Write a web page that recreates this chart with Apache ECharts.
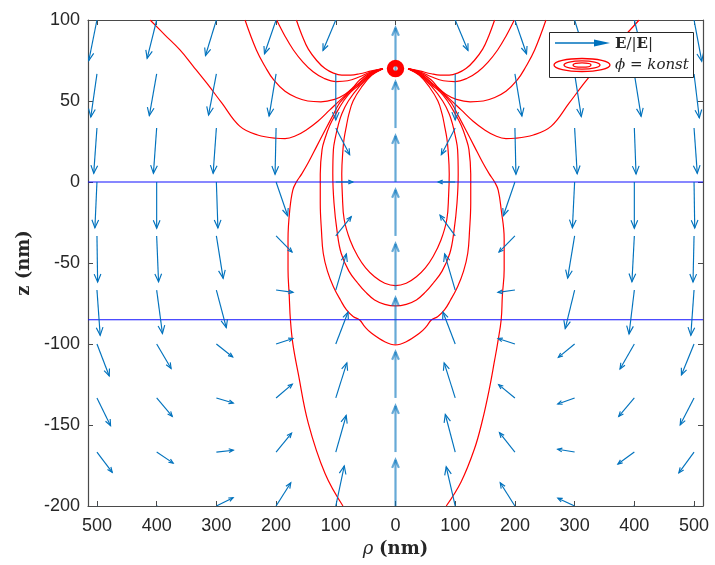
<!DOCTYPE html>
<html><head><meta charset="utf-8">
<script src="https://cdn.jsdelivr.net/npm/echarts@6/dist/echarts.min.js"></script>
<style>html,body{margin:0;padding:0;background:#fff}#c{width:715px;height:565px}</style>
</head><body><div id="c"></div>
<script>
// ---- data ----
const rhoGrid = [-500,-400,-300,-200,-100,0,100,200,300,400,500];
const zGrid = [100,66.7,33.3,0,-33.3,-66.7,-100,-133.3,-166.7,-200];
// unit field components E_rho/|E| (rows follow zGrid, columns follow rhoGrid)
const fieldR = [
  [-0.48,-0.56,-0.64,-0.68,-0.75,0,0.75,0.68,0.64,0.56,0.45],
  [-0.36,-0.43,-0.46,-0.41,0,0,0,0.41,0.39,0.40,0.31],
  [-0.19,-0.19,-0.19,-0.06,0.82,0,-0.82,0.06,0.15,0.10,0.19],
  [-0.12,0,0.09,0.68,1,0,-1,-0.68,-0.13,0,0.04],
  [0.04,0.11,0.40,0.94,0.91,0,-0.89,-0.94,-0.41,-0.14,-0.06],
  [0.19,0.34,0.58,1,0.62,0,-0.62,-1,-0.55,-0.31,-0.19],
  [0.72,0.85,0.96,0.99,0.72,0,-0.72,-0.99,-0.96,-0.84,-0.74],
  [0.80,0.92,0.99,0.96,0.65,0,-0.65,-0.96,-0.99,-0.92,-0.81],
  [0.90,0.97,1,0.91,0.61,0,-0.58,-0.91,-1,-0.97,-0.89],
  [0.95,0.99,0.98,0.86,0.50,0,-0.53,-0.86,-0.99,-0.99,-0.95]
];
// unit field components E_z/|E|
const fieldZ = [
  [-0.88,-0.83,-0.77,-0.73,-0.66,1,-0.66,-0.73,-0.77,-0.83,-0.89],
  [-0.93,-0.90,-0.89,-0.91,-1,1,-1,-0.91,-0.92,-0.92,-0.95],
  [-0.98,-0.98,-0.98,-1,-0.58,1,-0.58,-1,-0.99,-0.99,-0.98],
  [-0.99,-1,-1,-0.73,0,1,0,-0.73,-0.99,-1,-1],
  [-1,-0.99,-0.92,-0.35,0.42,1,0.45,-0.35,-0.91,-0.99,-1],
  [-0.98,-0.94,-0.81,-0.05,0.78,1,0.78,-0.05,-0.83,-0.95,-0.98],
  [-0.69,-0.53,-0.28,0.12,0.69,1,0.69,0.12,-0.29,-0.54,-0.67],
  [-0.60,-0.40,-0.11,0.30,0.76,1,0.76,0.29,-0.13,-0.40,-0.58],
  [-0.44,-0.24,0.04,0.41,0.79,1,0.81,0.42,0.06,-0.26,-0.45],
  [-0.30,-0.12,0.18,0.50,0.87,1,0.85,0.50,0.17,-0.12,-0.30]
];
const xTicks = [-500,-400,-300,-200,-100,0,100,200,300,400,500];
const interfaceZ = [0,-85];
const chargePos = [[0,70]];

// equipotential contours phi = konst, [rho, z] in nm
const contourU1L = [[-166,100],[-156,90],[-146,82],[-132,75],[-118,70],[-104,67.2],[-90,66],[-75,66],[-60,66.8],[-40,68.6],[-21,70]];
const contourU1R = [[166,100],[156,90],[146,82],[132,75],[118,70],[104,67.2],[90,66],[75,66],[60,66.8],[40,68.6],[21,70]];
const contourU2L = [[-199,100],[-185,90],[-171,81.5],[-155,74],[-138,68],[-120,64],[-99,62],[-80,62.5],[-60,65],[-40,68.2],[-21,70]];
const contourU2R = [[199,100],[185,90],[171,81.5],[155,74],[138,68],[120,64],[99,62],[80,62.5],[60,65],[40,68.2],[21,70]];
const contourU3L = [[-252,100],[-233,81.5],[-218,71],[-204,63],[-185,56],[-165,52],[-147,50],[-125,49.5],[-102,51],[-85,54],[-72,58],[-60,63],[-40,67.8],[-21,70]];
const contourU3R = [[252,100],[233,81.5],[218,71],[204,63],[185,56],[165,52],[147,50],[125,49.5],[102,51],[85,54],[72,58],[60,63],[40,67.8],[21,70]];
const contourU4L = [[-411,100],[-386,90.7],[-361,81.5],[-339,71.6],[-316,61],[-291,48.8],[-261,34.5],[-231,29],[-200,27],[-185,26.8],[-169,28.2],[-150,32],[-130,37.5],[-110,44.5],[-90,51.5],[-75,56.5],[-60,61.5],[-40,67.4],[-21,70]];
const contourU4R = [[408,100],[385,90.7],[361,81.5],[339,71.6],[316,61],[291,48.8],[261,34.5],[231,29],[200,27],[185,26.8],[169,28.2],[150,32],[130,37.5],[110,44.5],[90,51.5],[75,56.5],[60,61.5],[40,67.4],[21,70]];
const contourL1 = [[-21,70],[-40,65.8],[-57,58.5],[-71,50],[-78,42],[-82,35],[-86,27],[-88,20],[-90,5],[-89,-8],[-86,-23],[-76,-36],[-63,-46],[-50,-53],[-35,-58.5],[-18,-62.5],[0,-64],
  [18,-62.5],[35,-58.5],[50,-53],[63,-46],[76,-36],[86,-23],[89,-8],[90,5],[88,20],[86,27],[82,35],[78,42],[71,50],[57,58.5],[40,65.8],[21,70]];
const contourL2 = [[-21,70],[-40,66.2],[-60,59.2],[-79,50],[-90,42],[-96,35],[-101,27],[-104,20],[-105,5],[-103,-13],[-98,-30],[-91,-44],[-78,-55],[-63,-62.5],[-50,-68],[-35,-72.8],[-18,-75.5],[0,-76.5],
  [18,-75.5],[35,-72.8],[50,-68],[63,-62.5],[78,-55],[91,-44],[98,-30],[103,-13],[105,5],[104,20],[101,27],[96,35],[90,42],[79,50],[60,59.2],[40,66.2],[21,70]];
const contourL3 = [[-21,70],[-40,66.6],[-60,60],[-75,55.5],[-87,50],[-100,42],[-110,35],[-118,27],[-123,20],[-126,5],[-126,-13],[-124,-30],[-121,-44],[-114,-55],[-104,-64.6],[-92,-73],[-82,-79],[-71,-83],[-60,-85.2],[-51.5,-89.3],[-40,-93.4],[-18,-98.6],[0,-100.6],
  [18,-98.6],[40,-93.4],[51.5,-89.3],[60,-85.2],[71,-83],[82,-79],[92,-73],[104,-64.6],[114,-55],[121,-44],[124,-30],[126,-13],[126,5],[123,20],[118,27],[110,35],[100,42],[87,50],[75,55.5],[60,60],[40,66.6],[21,70]];
const contourL4L = [[-21,70],[-40,67],[-60,61],[-75,56.5],[-87,51.5],[-95,48],[-105,41],[-118,32],[-132,22],[-146,12],[-157,5],[-166,0],[-172,-5],[-177,-17],[-180,-35],[-180,-54],[-178,-70],[-176,-85],[-172,-99.6],[-163,-118],[-146,-149],[-118,-180],[-88,-200]];
const contourL4R = [[21,70],[40,67],[60,61],[75,56.5],[87,51.5],[95,48],[105,41],[118,32],[132,22],[146,12],[157,5],[166,0],[172,-5],[177,-17],[182,-35],[182,-54],[179,-70],[177,-85],[171,-99.6],[166,-110],[157,-128],[145,-148],[132,-165],[110,-185],[85,-200]];

const contours = [contourU1L,contourU1R,contourU2L,contourU2R,contourU3L,contourU3R,contourU4L,contourU4R,contourL1,contourL2,contourL3,contourL4L,contourL4R];

// ---- chart ----
const ARROW_SCALE = 28.5;
const arrowColor = '#0072BD';
const axisColor = '#4a4a4a';
const labelColor = '#262626';

const quiverData = [];
zGrid.forEach((z, i) => rhoGrid.forEach((r, j) => quiverData.push([r, z, fieldR[i][j], fieldZ[i][j]])));

function renderArrow(params, api) {
  const r = api.value(0), z = api.value(1);
  let u = api.value(2), w = api.value(3);
  const n = Math.hypot(u, w) || 1; u /= n; w /= n;
  const p0 = api.coord([r, z]);
  const p1 = api.coord([r + ARROW_SCALE * u, z + ARROW_SCALE * w]);
  const dx = p1[0] - p0[0], dy = p1[1] - p0[1];
  const L = Math.hypot(dx, dy) || 1;
  const ux = dx / L, uy = dy / L;
  const head = Math.max(4.5, Math.min(8, 0.2 * L));
  const hw = head * 0.42;
  const bx = p1[0] - ux * head, by = p1[1] - uy * head;
  const onAxis = r === 0;
  const style = { stroke: arrowColor, lineWidth: onAxis ? 2.2 : 1.15, fill: null, opacity: onAxis ? 0.6 : 1 };
  return {
    type: 'group',
    children: [
      { type: 'line', shape: { x1: p0[0], y1: p0[1], x2: p1[0], y2: p1[1] }, style },
      { type: 'polyline', shape: { points: [[bx - uy * hw, by + ux * hw], [p1[0], p1[1]], [bx + uy * hw, by - ux * hw]] }, style }
    ]
  };
}

const series = [];
contours.forEach(c => series.push({
  type: 'line', data: c, symbol: 'none', smooth: 0.4, silent: true,
  lineStyle: { color: '#ff0000', width: 1.2 }, z: 2
}));
interfaceZ.forEach(zv => series.push({
  type: 'line', data: [[-515, zv], [515, zv]], symbol: 'none', silent: true,
  lineStyle: { color: '#1010ff', width: 1.1 }, z: 3
}));
series.push({
  type: 'custom', renderItem: renderArrow, data: quiverData,
  encode: { x: 0, y: 1 }, clip: true, silent: true, z: 4
});
series.push({
  type: 'scatter', data: chargePos, symbol: 'circle', symbolSize: 11, silent: true,
  itemStyle: { color: 'rgba(0,0,0,0)', borderColor: '#ff0000', borderWidth: 6.5, opacity: 1 }, z: 5
});

const baseAxisLine = { show: true, onZero: false, lineStyle: { color: axisColor, width: 1.2 } };
const option = {
  animation: false,
  backgroundColor: '#ffffff',
  grid: { left: 88, right: 12, top: 20, bottom: 59, containLabel: false, outerBoundsMode: 'none' },
  xAxis: [
    {
      type: 'value', min: -515, max: 515, position: 'bottom',
      axisLine: baseAxisLine,
      axisTick: { show: true, inside: true, length: 5, customValues: xTicks, lineStyle: { color: axisColor } },
      axisLabel: { customValues: xTicks, formatter: v => String(Math.abs(v)), fontSize: 18, fontFamily: 'Liberation Sans', color: labelColor, margin: 11 },
      splitLine: { show: false },
      name: '{i|ρ} {b|(nm)}', nameLocation: 'middle', nameGap: 33,
      nameTextStyle: {
        fontFamily: 'DejaVu Serif', fontSize: 18, color: labelColor,
        rich: {
          i: { fontFamily: 'DejaVu Serif', fontStyle: 'italic', fontSize: 18, color: labelColor },
          b: { fontFamily: 'DejaVu Serif', fontWeight: 'bold', fontSize: 18, color: labelColor }
        }
      }
    },
    {
      type: 'value', min: -515, max: 515, position: 'top',
      axisLine: baseAxisLine,
      axisTick: { show: true, inside: true, length: 5, customValues: xTicks, lineStyle: { color: axisColor } },
      axisLabel: { show: false }, splitLine: { show: false }
    }
  ],
  yAxis: [
    {
      type: 'value', min: -200, max: 100, interval: 50, position: 'left',
      axisLine: baseAxisLine,
      axisTick: { show: true, inside: true, length: 5, lineStyle: { color: axisColor } },
      axisLabel: { fontSize: 18, fontFamily: 'Liberation Sans', color: labelColor, margin: 8 },
      splitLine: { show: false },
      name: 'z (nm)', nameLocation: 'middle', nameRotate: 90, nameGap: 52,
      nameTextStyle: { fontFamily: 'DejaVu Serif', fontWeight: 'bold', fontSize: 18, color: labelColor }
    },
    {
      type: 'value', min: -200, max: 100, interval: 50, position: 'right',
      axisLine: baseAxisLine,
      axisTick: { show: true, inside: true, length: 5, lineStyle: { color: axisColor } },
      axisLabel: { show: false }, splitLine: { show: false }
    }
  ],
  graphic: [
    { type: 'rect', z: 100, shape: { x: 549.5, y: 32.5, width: 144, height: 45 }, style: { fill: '#ffffff', stroke: '#262626', lineWidth: 1 } },
    { type: 'line', z: 101, shape: { x1: 555, y1: 43, x2: 597, y2: 43 }, style: { stroke: arrowColor, lineWidth: 1.5 } },
    { type: 'polygon', z: 101, shape: { points: [[594, 39.5], [610, 43], [594, 46.5]] }, style: { fill: arrowColor } },
    { type: 'text', z: 101, x: 615, y: 44, style: { text: '{b|E}/|{b|E}|', fontFamily: 'DejaVu Serif', fontSize: 15, fill: labelColor, verticalAlign: 'middle', rich: { b: { fontFamily: 'DejaVu Serif', fontWeight: 'bold', fontSize: 15, fill: labelColor } } } },
    { type: 'ellipse', z: 101, shape: { cx: 582, cy: 65, rx: 28, ry: 6.5 }, style: { fill: null, stroke: '#ff0000', lineWidth: 1.3 } },
    { type: 'ellipse', z: 101, shape: { cx: 582, cy: 65, rx: 18, ry: 4.2 }, style: { fill: null, stroke: '#ff0000', lineWidth: 1.3 } },
    { type: 'ellipse', z: 101, shape: { cx: 582, cy: 65, rx: 9, ry: 2.2 }, style: { fill: null, stroke: '#ff0000', lineWidth: 1.3 } },
    { type: 'text', z: 101, x: 615, y: 65, style: { text: '{i|ϕ} = {i|konst}', fontFamily: 'DejaVu Serif', fontSize: 15, fill: labelColor, verticalAlign: 'middle', rich: { i: { fontFamily: 'DejaVu Serif', fontStyle: 'italic', fontSize: 15, fill: labelColor } } } }
  ],
  series
};
const chart = echarts.init(document.getElementById('c'), null, { renderer: 'canvas' });
chart.setOption(option);
</script>
</body></html>
